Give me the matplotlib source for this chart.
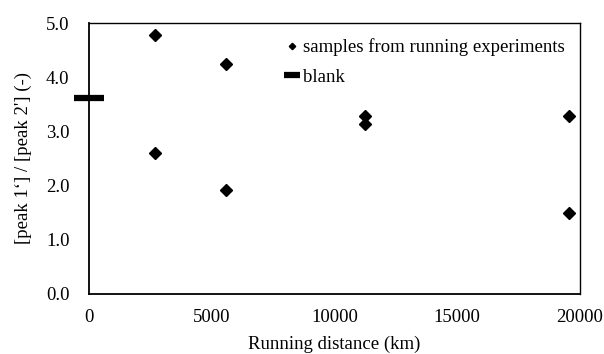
import matplotlib
matplotlib.use('Agg')
import matplotlib.pyplot as plt

# samples from running experiments
distance_km = [2700, 2700, 5600, 5600, 11250, 11250, 19550, 19550]
peak_ratio = [4.78, 2.60, 4.24, 1.92, 3.29, 3.13, 3.28, 1.49]

# blank reference
blank_km = [0]
blank_ratio = [3.61]

plt.rcParams['font.family'] = ['Liberation Serif', 'DejaVu Serif']
plt.rcParams['font.size'] = 13.5

fig = plt.figure(figsize=(6.04, 3.54), dpi=100)
ax = fig.add_axes([89 / 604, 60 / 354, 491 / 604, 271 / 354])

ax.plot(distance_km, peak_ratio, linestyle='none', marker='D', color='black',
        markersize=6.5, label='samples from running experiments')
ax.plot(blank_km, blank_ratio, linestyle='none', marker='_', color='black',
        markersize=22, markeredgewidth=4.5, label='blank', clip_on=False)

ax.set_xlim(0, 20000)
ax.set_ylim(0, 5)
ax.set_xticks([0, 5000, 10000, 15000, 20000])
ax.set_yticks([0, 1, 2, 3, 4, 5])
ax.set_yticklabels(['0.0', '1.0', '2.0', '3.0', '4.0', '5.0'])
ax.tick_params(axis='x', length=0, pad=11)
ax.tick_params(axis='y', length=0, pad=14)

for s in ax.spines.values():
    s.set_color('black')
    s.set_linewidth(1.0)
ax.spines['left'].set_linewidth(1.3)
ax.spines['bottom'].set_linewidth(1.3)

ax.set_xlabel('Running distance (km)', labelpad=7)
ax.set_ylabel("[peak 1\u2018] / [peak 2'] (-)", labelpad=10)

ax.legend(loc='upper left', bbox_to_anchor=(0.37, 1.005), frameon=False,
          handlelength=0.5, handletextpad=0.3, labelspacing=0.66,
          borderaxespad=0.5, markerscale=0.5)

fig.savefig('out.png', dpi=100)
